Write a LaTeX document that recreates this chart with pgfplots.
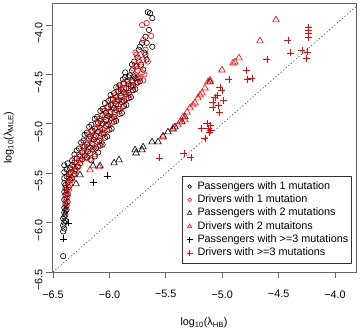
\documentclass[border=0pt]{standalone}
\usepackage{pgfplots}
\pgfplotsset{compat=1.18}
\usepackage{fontspec}
\setmainfont{Liberation Sans}

% legend image with its own mark size and a fixed width
\pgfplotsset{limg/.style={legend image code/.code={%
  \path (0pt,-1pt) (11pt,1pt);
  \draw[mark repeat=2,mark phase=2,##1,mark size=#1] plot coordinates {(0pt,0pt)(5pt,0pt)(10pt,0pt)};}}}

\begin{document}
\begin{tikzpicture}
\begin{axis}[
    scale only axis,
    width=304pt,
    height=269pt,
    xmin=-6.509, xmax=-3.814,
    ymin=-6.5, ymax=-3.777,
    axis line style={black!60, line width=0.7pt},
    tick style={black!60, line width=0.7pt},
    tick align=outside,
    major tick length=6pt,
    xtick pos=lower,
    ytick pos=left,
    xtick={-6.5,-6,-5.5,-5,-4.5,-4},
    xticklabels={−6.5,−6.0,−5.5,−5.0,−4.5,−4.0},
    ytick={-6.5,-6,-5.5,-5,-4.5,-4},
    yticklabels={−6.5,−6.0,−5.5,−5.0,−4.5,−4.0},
    tick label style={font=\fontsize{10.8}{13}\selectfont},
    xticklabel style={yshift=-9pt},
    yticklabel style={rotate=90, anchor=south, xshift=-8pt},
    xlabel={log\textsubscript{10}(λ\textsubscript{HB})},
    ylabel={log\textsubscript{10}(λ\textsubscript{MLE})},
    label style={font=\fontsize{10.8}{13}\selectfont},
    xlabel style={yshift=-13pt},
    ylabel style={yshift=14pt},
    legend cell align=left,
    legend style={
        at={(1,0)}, anchor=south east, xshift=-4pt, yshift=8pt,
        draw=black!80, line width=0.6pt,
        font=\fontsize{10.8}{13}\selectfont,
        inner xsep=2pt, inner ysep=4pt,
        nodes={text height=8pt, text depth=2.3pt, inner sep=1.5pt},
    },
]
\coordinate (bl) at (rel axis cs:0,0);
\coordinate (tr) at (rel axis cs:1,1);

% Passengers with 1 mutation
\addplot[only marks, mark=o, mark size=2.7pt, black, line width=0.6pt, limg=1.9pt] coordinates {
(-6.41,-6.34)
(-6.41,-6.09)(-6.40,-6.06)(-6.41,-6.03)(-6.40,-6.00)(-6.39,-5.98)(-6.41,-5.96)(-6.40,-5.94)(-6.39,-5.92)
(-6.40,-5.90)(-6.39,-5.88)(-6.38,-5.87)(-6.40,-5.85)(-6.38,-5.83)(-6.39,-5.81)(-6.37,-5.79)(-6.40,-5.77)
(-6.38,-5.75)(-6.39,-5.72)(-6.37,-5.71)(-6.40,-5.69)(-6.38,-5.67)(-6.39,-5.65)(-6.36,-5.64)(-6.39,-5.62)
(-6.40,-5.60)(-6.37,-5.59)(-6.35,-5.57)(-6.40,-5.55)(-6.38,-5.53)(-6.33,-5.55)(-6.36,-5.51)(-6.40,-5.49)
(-6.34,-5.49)(-6.31,-5.51)(-6.38,-5.46)(-6.35,-5.45)(-6.30,-5.46)(-6.40,-5.42)(-6.33,-5.42)(-6.28,-5.43)
(-6.37,-5.40)(-6.31,-5.39)(-6.26,-5.40)
(-6.33,-5.37)(-6.29,-5.35)(-6.24,-5.36)(-6.20,-5.34)(-6.16,-5.37)
(-6.31,-5.31)(-6.26,-5.33)(-6.22,-5.32)(-6.17,-5.30)(-6.13,-5.33)
(-6.29,-5.27)(-6.24,-5.29)(-6.19,-5.28)(-6.15,-5.26)(-6.10,-5.29)
(-6.27,-5.25)(-6.22,-5.23)(-6.17,-5.24)(-6.12,-5.25)(-6.08,-5.22)
(-6.25,-5.19)(-6.20,-5.21)(-6.15,-5.20)(-6.11,-5.18)(-6.06,-5.21)
(-6.23,-5.17)(-6.18,-5.15)(-6.14,-5.16)(-6.09,-5.17)(-6.04,-5.14)
(-6.22,-5.11)(-6.17,-5.13)(-6.12,-5.12)(-6.07,-5.10)(-6.02,-5.13)
(-6.20,-5.09)(-6.15,-5.07)(-6.10,-5.08)(-6.05,-5.09)(-6.00,-5.06)
(-6.18,-5.03)(-6.13,-5.05)(-6.08,-5.04)(-6.03,-5.02)(-5.98,-5.05)
(-6.16,-5.01)(-6.10,-4.99)(-6.06,-5.00)(-6.01,-5.01)(-5.96,-4.98)
(-6.13,-4.95)(-6.08,-4.97)(-6.03,-4.96)(-5.98,-4.94)(-5.94,-4.97)
(-6.11,-4.93)(-6.06,-4.91)(-6.01,-4.92)(-5.96,-4.93)(-5.91,-4.90)
(-6.08,-4.87)(-6.03,-4.89)(-5.99,-4.88)(-5.94,-4.86)(-5.89,-4.89)
(-6.06,-4.85)(-6.01,-4.83)(-5.96,-4.84)(-5.92,-4.85)(-5.87,-4.82)
(-6.04,-4.79)(-5.99,-4.81)(-5.94,-4.80)(-5.89,-4.78)(-5.85,-4.81)
(-6.01,-4.77)(-5.97,-4.75)(-5.92,-4.76)(-5.87,-4.77)(-5.83,-4.74)
(-5.99,-4.71)(-5.94,-4.73)(-5.90,-4.72)(-5.85,-4.70)(-5.81,-4.73)
(-5.96,-4.69)(-5.92,-4.67)(-5.87,-4.68)(-5.83,-4.69)(-5.79,-4.66)
(-5.94,-4.63)(-5.90,-4.65)(-5.85,-4.64)(-5.81,-4.62)(-5.77,-4.65)
(-5.91,-4.61)(-5.87,-4.59)(-5.83,-4.60)(-5.79,-4.61)(-5.75,-4.58)
(-5.88,-4.55)(-5.84,-4.57)(-5.80,-4.56)(-5.77,-4.54)(-5.73,-4.57)
(-5.86,-4.53)(-5.82,-4.51)(-5.78,-4.52)(-5.75,-4.53)
(-5.86,-4.48)(-5.83,-4.53)(-5.80,-4.46)(-5.80,-4.40)(-5.78,-4.37)(-5.76,-4.42)(-5.72,-4.40)
(-5.70,-4.45)(-5.68,-4.30)(-5.73,-4.22)(-5.65,-4.05)(-5.68,-4.12)
(-5.75,-4.33)(-5.74,-4.25)(-5.67,-4.35)(-5.69,-4.28)(-5.71,-4.18)(-5.67,-4.18)(-5.62,-4.22)
(-5.64,-3.88)(-5.62,-3.93)(-5.66,-3.87)
};
\addlegendentry{Passengers with 1 mutation}

% Drivers with 1 mutation
\addplot[only marks, mark=o, mark size=2.7pt, red, line width=0.6pt, limg=1.9pt] coordinates {
(-6.39,-5.84)(-6.38,-5.80)(-6.39,-5.76)(-6.37,-5.73)(-6.38,-5.70)(-6.36,-5.67)(-6.38,-5.64)(-6.35,-5.62)
(-6.37,-5.59)(-6.34,-5.57)(-6.36,-5.54)(-6.32,-5.52)(-6.35,-5.50)(-6.30,-5.48)(-6.33,-5.46)(-6.28,-5.44)
(-6.31,-5.42)(-6.26,-5.40)
(-6.31,-5.35)(-6.26,-5.37)(-6.21,-5.35)(-6.17,-5.36)
(-6.27,-5.31)(-6.22,-5.29)(-6.17,-5.30)(-6.13,-5.31)
(-6.24,-5.23)(-6.19,-5.25)(-6.14,-5.24)(-6.10,-5.23)
(-6.21,-5.19)(-6.16,-5.17)(-6.11,-5.18)(-6.07,-5.19)
(-6.19,-5.11)(-6.14,-5.13)(-6.09,-5.12)(-6.05,-5.11)
(-6.16,-5.07)(-6.11,-5.05)(-6.06,-5.06)(-6.02,-5.07)
(-6.12,-4.99)(-6.07,-5.01)(-6.02,-5.00)(-5.98,-4.99)
(-6.09,-4.95)(-6.04,-4.93)(-5.99,-4.94)(-5.95,-4.95)
(-6.05,-4.87)(-6.00,-4.89)(-5.95,-4.88)(-5.91,-4.87)
(-6.02,-4.83)(-5.97,-4.81)(-5.92,-4.82)(-5.88,-4.83)
(-5.99,-4.75)(-5.94,-4.77)(-5.89,-4.76)(-5.85,-4.75)
(-5.95,-4.71)(-5.90,-4.69)(-5.86,-4.70)(-5.82,-4.71)
(-5.92,-4.63)(-5.87,-4.65)(-5.83,-4.64)(-5.79,-4.63)
(-5.88,-4.59)(-5.84,-4.57)(-5.80,-4.58)(-5.76,-4.59)
(-5.71,-4.00)(-5.67,-3.98)(-5.63,-4.11)(-5.77,-4.28)(-5.76,-4.30)(-5.70,-4.35)(-5.66,-4.37)(-5.77,-4.40)
(-5.79,-4.44)(-5.75,-4.46)(-5.71,-4.48)(-5.76,-4.51)(-5.73,-4.54)(-5.70,-4.56)(-5.69,-4.50)(-5.72,-4.42)
(-5.74,-4.36)(-5.68,-4.25)(-5.70,-4.15)
};
\addlegendentry{Drivers with 1 mutation}

% Passengers with 2 mutations
\addplot[only marks, mark=triangle, mark size=3.8pt, black, line width=0.6pt, limg=2.5pt] coordinates {
(-6.296,-5.609)(-6.261,-5.518)(-6.145,-5.427)(-6.083,-5.427)(-5.959,-5.397)(-5.915,-5.366)
(-5.764,-5.296)(-5.711,-5.265)(-5.773,-5.265)(-5.702,-5.235)(-5.622,-5.184)(-5.569,-5.184)
(-5.525,-5.124)(-5.481,-5.083)(-5.436,-5.053)(-5.418,-5.032)(-5.356,-4.982)(-5.330,-4.931)(-5.108,-4.577)
};
\addlegendentry{Passengers with 2 mutations}

% Drivers with 2 mutations
\addplot[only marks, mark=triangle, mark size=3.8pt, red, line width=0.6pt, limg=2.5pt] coordinates {
(-6.172,-5.468)(-6.092,-5.437)(-5.525,-5.134)(-5.436,-5.043)(-5.392,-5.012)(-5.374,-4.982)
(-5.347,-4.931)(-5.330,-4.961)(-5.312,-4.881)(-5.286,-4.840)(-5.259,-4.810)(-5.241,-4.790)
(-5.215,-4.739)(-5.197,-4.709)(-5.179,-4.688)(-5.153,-4.638)(-5.126,-4.577)(-5.108,-4.557)
(-5.002,-4.456)(-4.904,-4.385)(-4.887,-4.375)(-4.851,-4.334)(-4.665,-4.162)(-4.523,-3.949)
};
\addlegendentry{Drivers with 2 mutaitons}

% Passengers with >=3 mutations
\addplot[only marks, mark=+, mark size=3.5pt, black, line width=0.6pt, limg=3pt] coordinates {
(-6.411,-6.166)(-6.367,-6.004)(-6.145,-5.589)(-6.021,-5.528)
};
\addlegendentry{Passengers with >=3 mutations}

% Drivers with >=3 mutations
\addplot[only marks, mark=+, mark size=3.5pt, red, line width=0.6pt, limg=3pt] coordinates {
(-5.560,-5.346)(-5.339,-5.296)(-5.277,-5.336)(-5.153,-5.144)(-5.117,-5.083)(-5.126,-5.043)
(-5.108,-5.012)(-5.135,-4.992)(-5.188,-5.043)(-5.108,-5.063)(-5.028,-4.881)(-5.037,-4.810)
(-5.082,-4.830)(-5.082,-4.779)(-4.993,-4.759)(-5.064,-4.729)(-5.046,-4.709)(-5.020,-4.628)
(-5.002,-4.658)(-4.940,-4.547)(-4.780,-4.547)(-4.736,-4.537)(-4.789,-4.456)(-4.603,-4.344)
(-4.417,-4.152)(-4.399,-4.283)(-4.293,-4.253)(-4.248,-4.273)(-4.257,-4.334)
(-4.239,-4.020)(-4.239,-4.051)(-4.239,-4.081)(-4.239,-4.122)
};
\addlegendentry{Drivers with >=3 mutations}

% y = x reference
\addplot[black!75, line width=0.6pt, dash pattern=on 1.2pt off 2.2pt, forget plot] coordinates {(-6.5,-6.5)(-3.81,-3.81)};
\end{axis}
\pgfresetboundingbox
\path[use as bounding box] ([shift={(-52pt,-57pt)}]bl) rectangle ([shift={(7pt,3pt)}]tr);
\end{tikzpicture}
\end{document}
